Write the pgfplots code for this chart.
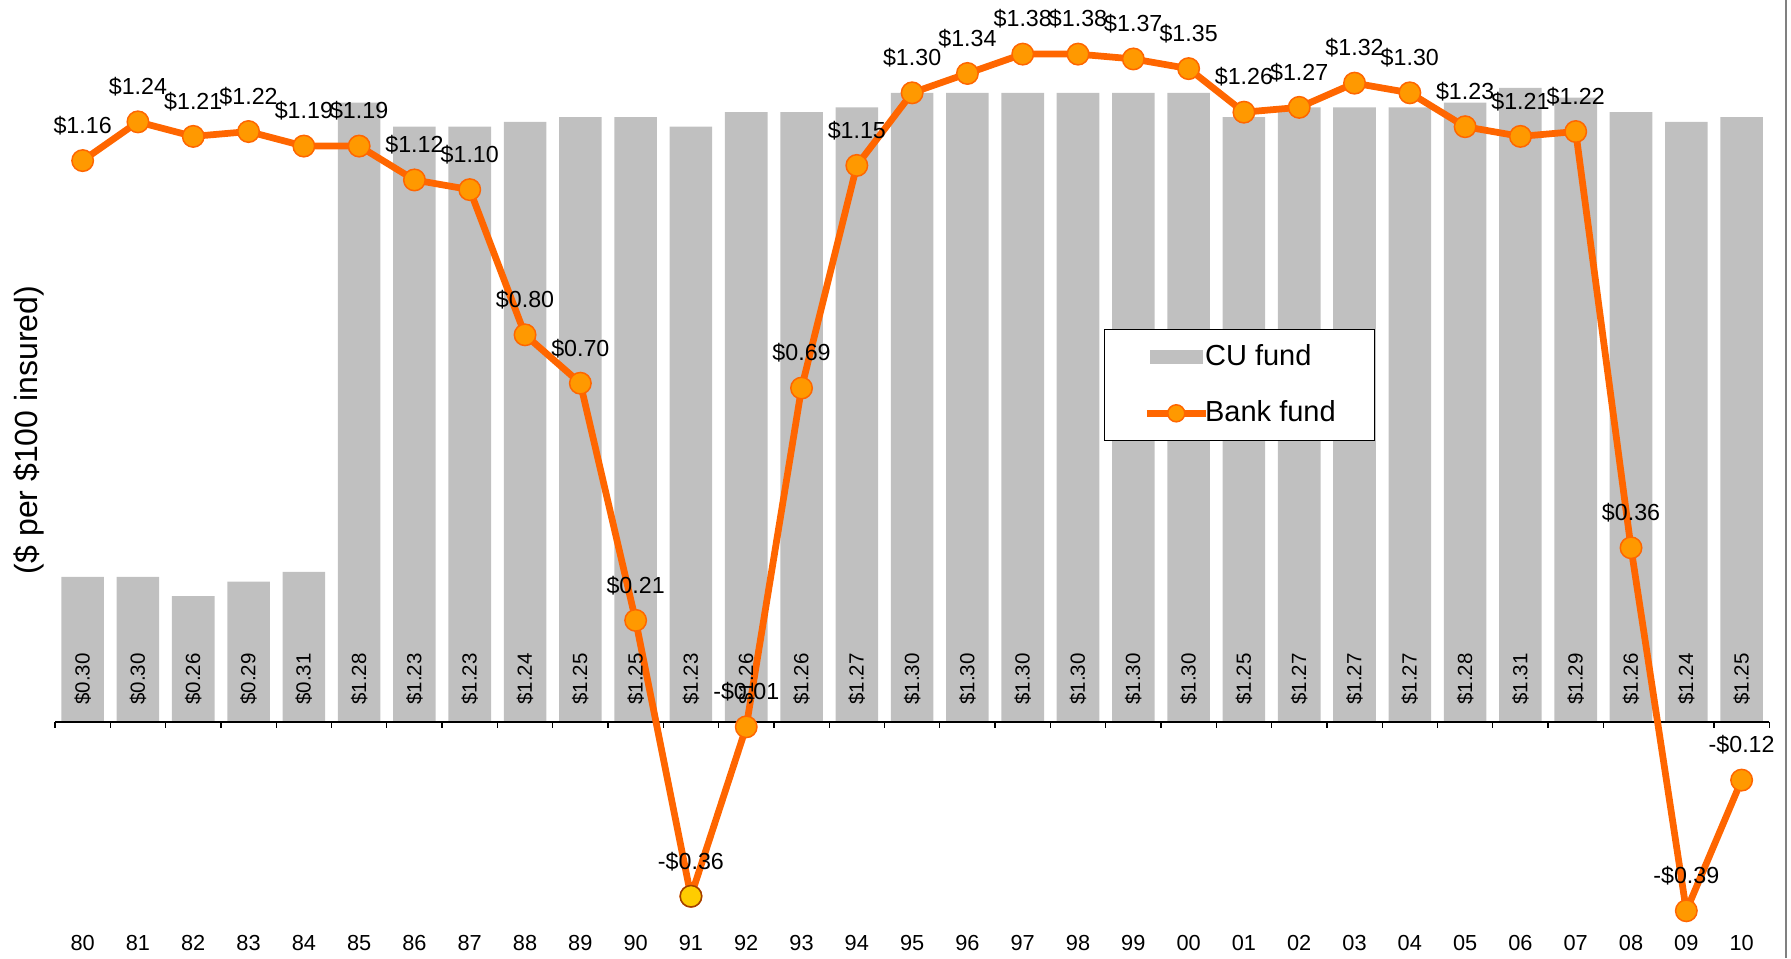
\documentclass[border=0pt]{standalone}
\usepackage{fontspec}
\setmainfont{Liberation Sans}
\usepackage{pgfplots}
\usepackage{pgfplotstable}
\pgfplotsset{compat=1.18}

\definecolor{barfill}{HTML}{C0C0C0}
\definecolor{lnorange}{HTML}{FF6600}
\definecolor{mkorange}{HTML}{FF9900}
\definecolor{mkyellow}{HTML}{FFCC00}
\definecolor{mkbrown}{HTML}{A04000}

% Fund balance per $100 of insured deposits, 1980-2010
\pgfplotstableread{
x cu bank
0 0.30 1.16
1 0.30 1.24
2 0.26 1.21
3 0.29 1.22
4 0.31 1.19
5 1.28 1.19
6 1.23 1.12
7 1.23 1.10
8 1.24 0.80
9 1.25 0.70
10 1.25 0.21
11 1.23 -0.36
12 1.26 -0.01
13 1.26 0.69
14 1.27 1.15
15 1.30 1.30
16 1.30 1.34
17 1.30 1.38
18 1.30 1.38
19 1.30 1.37
20 1.30 1.35
21 1.25 1.26
22 1.27 1.27
23 1.27 1.32
24 1.27 1.30
25 1.28 1.23
26 1.31 1.21
27 1.29 1.22
28 1.26 0.36
29 1.24 -0.39
30 1.25 -0.12
}\fundtable

% Dollar label of the current point meta: $1.16, -$0.36
\makeatletter
\def\money@strip-#1\@nil{#1}
\newcommand\moneylabel{%
  \pgfmathfloattofixed{\pgfplotspointmeta}%
  \let\money@v\pgfmathresult
  \ifdim\money@v pt<0pt
    \edef\money@a{\expandafter\money@strip\money@v\@nil}%
    -\$\pgfmathprintnumber[fixed,fixed zerofill,precision=2,assume math mode=true]{\money@a}%
  \else
    \$\pgfmathprintnumber[fixed,fixed zerofill,precision=2,assume math mode=true]{\money@v}%
  \fi}
\makeatother

\pgfplotsset{
  cu legend/.style={legend image code/.code={%
    \fill[barfill] (1.3pt,-2.8pt) rectangle (22.3pt,2.8pt);}},
  bank legend/.style={legend image code/.code={%
    \draw[lnorange, line width=2.7pt, mark=*, mark size=3.4pt,
      mark options={solid, fill=mkorange, draw=lnorange, line width=0.6pt},
      mark repeat=2, mark phase=2]
      plot coordinates {(0pt,0pt) (11.8pt,0pt) (23.6pt,0pt)};}},
}

\begin{document}
\begin{tikzpicture}
\useasboundingbox (0,0) rectangle (716.4pt,383.2pt);
\begin{axis}[
  at={(22pt,11.15pt)}, anchor=south west,
  scale only axis, width=685.7pt, height=371.7pt,
  xmin=-0.5, xmax=30.5, ymin=-0.43, ymax=1.49,
  clip=false,
  axis y line=none,
  axis x line=bottom,
  x axis line style={draw=none},
  xtick={0,...,30},
  xticklabels={80,81,82,83,84,85,86,87,88,89,90,91,92,93,94,95,96,97,98,99,00,01,02,03,04,05,06,07,08,09,10},
  xtick style={draw=none},
  major tick length=0pt,
  xticklabel style={font=\fontsize{8.7}{10.4}\selectfont, inner sep=1.9pt},
  legend style={at={(0.612,0.647)}, anchor=north west,
    draw=black, line width=0.4pt, fill=white,
    font=\fontsize{11.6}{13.9}\selectfont,
    inner xsep=15.5pt, inner ysep=6pt,
    nodes={inner sep=0pt},
    row sep=12.7pt, column sep=-1.6pt},
  legend cell align=left,
]
% CU fund bars
\addplot[ybar, bar width=0.77, fill=barfill, draw=none, cu legend]
  table[x=x, y=cu] {\fundtable};
\addlegendentry{CU fund}

% CU values written upright inside the bars
\addplot[forget plot, draw=none, mark=none,
  point meta=explicit,
  nodes near coords=\moneylabel,
  nodes near coords style={rotate=90, anchor=west, inner sep=0pt, text=black,
    font=\fontsize{8.2}{9.8}\selectfont}]
  table[x=x, y expr=0.035, meta=cu] {\fundtable};

% zero line with category separators
\draw[black, line width=0.5pt] (axis cs:-0.5,0) -- (axis cs:30.5,0);
\pgfplotsinvokeforeach{-0.5,0.5,...,30.5}{
  \draw[black, line width=0.5pt] (axis cs:#1,0) -- ++(0pt,-2.5pt);
}

% Bank fund ratio
\addplot[color=lnorange, line width=2.7pt, line join=round,
  mark=*, mark size=4.3pt,
  mark options={solid, fill=mkorange, draw=lnorange, line width=0.6pt},
  point meta=explicit,
  nodes near coords=\moneylabel,
  nodes near coords style={anchor=center, yshift=14pt, inner sep=0pt, text=black,
    font=\fontsize{9.3}{11}\selectfont},
  bank legend]
  table[x=x, y=bank, meta=bank] {\fundtable};
\addlegendentry{Bank fund}

% 1991 low point highlighted
\addplot[forget plot, only marks, mark=*, mark size=4.3pt,
  mark options={fill=mkyellow, draw=mkbrown, line width=0.6pt}]
  coordinates {(11,-0.36)};
\end{axis}
\node[rotate=90, font=\fontsize{12.8}{15}\selectfont] at (11.6pt,211.2pt) {(\$ per \$100 insured)};
\draw[color=gray, line width=0.6pt] (714.4pt,0pt) -- (714.4pt,383.2pt);
\end{tikzpicture}
\end{document}
